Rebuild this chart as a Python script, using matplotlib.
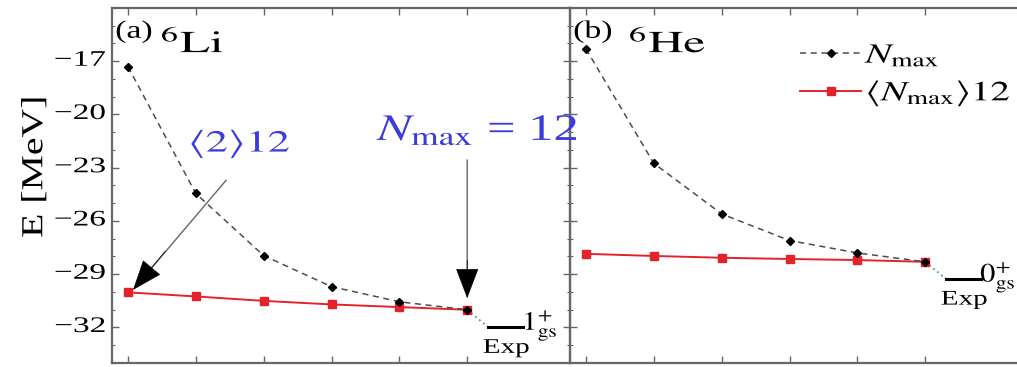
import numpy as np
import matplotlib
matplotlib.use("Agg")
import matplotlib.pyplot as plt
from matplotlib.lines import Line2D
from matplotlib.patheffects import AbstractPathEffect
from matplotlib.transforms import Affine2D

plt.rcParams['font.family'] = 'serif'
plt.rcParams['font.serif'] = ['Liberation Serif', 'DejaVu Serif']
plt.rcParams['mathtext.fontset'] = 'stix'

# Nmax values
nmax = [2, 4, 6, 8, 10, 12]

# 6Li ground state energies [MeV]
li_nmax = [-17.3, -24.45, -27.95, -29.7, -30.55, -31.0]
li_avg12 = [-30.02, -30.25, -30.5, -30.7, -30.85, -31.0]
li_exp = -31.99

# 6He ground state energies [MeV]
he_nmax = [-16.3, -22.75, -25.6, -27.1, -27.8, -28.3]
he_avg12 = [-27.85, -27.97, -28.07, -28.14, -28.2, -28.3]
he_exp = -29.27

yticks = [-17, -20, -23, -26, -29, -32]
ytick_labels = ['\u221217', '\u221220', '\u221223', '\u221226', '\u221229', '\u221232']

blue = '#3c3cdc'
red = '#e3232b'
SX = 1.45  # the original glyphs are wide, stretch text along its baseline


class Stretch(AbstractPathEffect):
    def __init__(self, sx=SX, anchor='left'):
        super().__init__()
        self.sx = sx
        self.anchor = anchor

    def draw_path(self, renderer, gc, tpath, affine, rgbFace=None):
        ext = tpath.get_extents()
        if self.anchor == 'center':
            c = (ext.x0 + ext.x1) / 2
        elif self.anchor == 'right':
            c = ext.x1
        else:
            c = 0
        st = Affine2D().translate(-c, 0).scale(self.sx, 1).translate(c, 0)
        renderer.draw_path(gc, tpath, st + affine, rgbFace)


def wide(t, anchor='left', sx=SX):
    t.set_path_effects([Stretch(sx, anchor)])
    return t


fig = plt.figure(figsize=(10.17, 3.67), dpi=100)
ax1 = fig.add_axes([112/1017, 4/367, 458/1017, 355/367])
ax2 = fig.add_axes([570/1017, 4/367, 458/1017, 355/367])
ax1.set_zorder(3)
ax1.patch.set_visible(False)


def panel(ax, e_nmax, e_avg, e_exp, lab, nuc, nuc_x, jpi):
    ax.plot(nmax, e_avg, '-s', color=red, lw=1.4, ms=5.5, zorder=3)
    ax.plot(nmax, e_nmax, '--D', color='0.3', mfc='k', mec='k', lw=1.1, ms=4.5,
            dashes=(4, 3), zorder=4)
    ax.plot([nmax[-1], 12.62], [e_nmax[-1], e_exp], ':', color='#5fa6a6', lw=1.4)
    ax.plot([12.62, 13.65], [e_exp, e_exp], '-', color='k', lw=2.2)
    wide(ax.text(13.15, e_exp - 0.65, 'Exp', ha='center', va='top', fontsize=15),
         'center', 1.4)
    wide(ax.text(13.62, e_exp + 0.1, jpi, ha='left', va='center', fontsize=19), sx=1.15)
    wide(ax.text(0.007, 0.966, lab, transform=ax.transAxes, ha='left', va='top',
                 fontsize=18), sx=1.35)
    wide(ax.text(nuc_x, 0.875, nuc, transform=ax.transAxes, ha='left',
                 va='baseline', fontsize=22), sx=1.6)

    ax.set_xlim(1.53, 15.03)
    ax.set_ylim(-34, -14)
    ax.set_xticks(nmax)
    ax.set_xticklabels([])
    ax.set_yticks(yticks)
    ax.set_yticklabels([])
    ax.set_yticks(np.arange(-34, -13), minor=True)
    ax.tick_params(which='both', direction='in', top=True, right=True, color='0.4')
    ax.tick_params(which='major', length=5, width=1)
    ax.tick_params(which='minor', length=2.5, width=0.8)
    for s in ax.spines.values():
        s.set_color('0.4')
        s.set_linewidth(1.6)


panel(ax1, li_nmax, li_avg12, li_exp, '(a)', r'$^{6}\mathrm{Li}$', 0.105,
      r'$1^{+}_{\mathrm{gs}}$')
panel(ax2, he_nmax, he_avg12, he_exp, '(b)', r'$^{6}\mathrm{He}$', 0.127,
      r'$0^{+}_{\mathrm{gs}}$')

# y tick labels drawn as text so they can be widened
for v, s in zip(yticks, ytick_labels):
    wide(ax1.text(-0.014, v, s, transform=ax1.get_yaxis_transform(), ha='right',
                  va='center', fontsize=16, clip_on=False), 'right', 1.5)

ax1.set_ylabel('E [MeV]', fontsize=22)
ax1.yaxis.set_label_coords(-0.137, 0.552)
wide(ax1.yaxis.label, 'center', 1.3)

# annotations in panel (a)
wide(ax1.text(5.3, -22.1, r'$\langle 2\rangle 12$', color=blue, fontsize=22,
              ha='center', va='baseline'), 'center')
ax1.annotate('', xy=(2.15, -29.88), xytext=(4.95, -23.58),
             arrowprops=dict(arrowstyle='-', color='0.4', lw=1.0))
ax1.annotate('', xy=(2.15, -29.88), xytext=(3.1, -27.7),
             arrowprops=dict(arrowstyle='-|>,head_length=1.0,head_width=0.38',
                             mutation_scale=20, color='k', lw=0.5, shrinkA=0, shrinkB=0))

wide(ax1.text(9.35, -21.45, r'$N_{\mathrm{max}}$ = 12', color=blue, fontsize=27,
              ha='left', va='baseline', clip_on=False), 'left', 1.35)
ax1.annotate('', xy=(12, -30.35), xytext=(12, -22.4),
             arrowprops=dict(arrowstyle='-', color='0.4', lw=1.0))
ax1.annotate('', xy=(12, -30.35), xytext=(12, -28.2),
             arrowprops=dict(arrowstyle='-|>,head_length=1.0,head_width=0.38',
                             mutation_scale=20, color='k', lw=0.5, shrinkA=0, shrinkB=0))

# legend in panel (b)
handles = [
    Line2D([], [], color='0.3', mfc='k', mec='k', ls='--', dashes=(4, 3), lw=1.1,
           marker='D', ms=4.5),
    Line2D([], [], color=red, ls='-', lw=1.4, marker='s', ms=5.5),
]
leg = ax2.legend(handles, [r'$N_{\mathrm{max}}$', r'$\langle N_{\mathrm{max}}\rangle 12$'],
                 loc='upper left', bbox_to_anchor=(0.472, 0.94), frameon=False,
                 fontsize=20, handlelength=2.2, handletextpad=0.15, borderpad=0,
                 labelspacing=0.35)
for t in leg.get_texts():
    wide(t, 'left', 1.4)

fig.savefig('out.png', dpi=100)
